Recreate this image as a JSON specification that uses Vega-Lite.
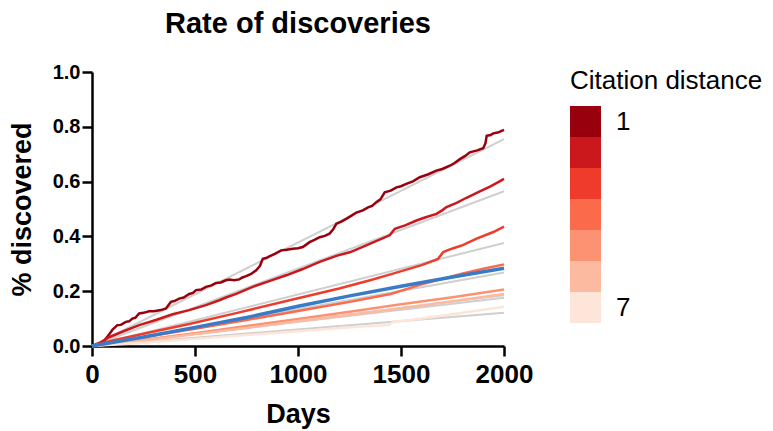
{
  "$schema": "https://vega.github.io/schema/vega-lite/v6.json",
  "autosize": "none",
  "width": 412,
  "height": 274,
  "padding": {"left": 92, "top": 72, "right": 269, "bottom": 85},
  "background": "white",
  "title": {"text": "Rate of discoveries", "anchor": "middle", "frame": "group", "font": "Liberation Sans", "fontSize": 29, "fontWeight": "bold", "color": "black", "offset": 23},
  "config": {
    "view": {"stroke": null},
    "axis": {"domainColor": "black", "domainWidth": 2.5, "tickColor": "black", "tickWidth": 2.5, "tickSize": 10, "labelColor": "black", "labelFont": "Liberation Sans", "labelFontWeight": "bold", "titleFont": "Liberation Sans", "titleFontWeight": "bold", "titleColor": "black", "grid": false, "labelFlush": false, "labelOverlap": false, "labelBound": false},
    "legend": {"labelFont": "Liberation Sans", "titleFont": "Liberation Sans"}
  },
  "datasets": {
    "reds": [
      {"dist": 1, "d": 0, "v": 0}, {"dist": 1, "d": 30, "v": 0.006}, {"dist": 1, "d": 60, "v": 0.02}, {"dist": 1, "d": 83, "v": 0.042}, {"dist": 1, "d": 100, "v": 0.06}, {"dist": 1, "d": 123, "v": 0.076}, {"dist": 1, "d": 140, "v": 0.077}, {"dist": 1, "d": 164, "v": 0.088}, {"dist": 1, "d": 180, "v": 0.09}, {"dist": 1, "d": 196, "v": 0.1}, {"dist": 1, "d": 210, "v": 0.103}, {"dist": 1, "d": 229, "v": 0.119}, {"dist": 1, "d": 250, "v": 0.121}, {"dist": 1, "d": 277, "v": 0.127}, {"dist": 1, "d": 300, "v": 0.127}, {"dist": 1, "d": 334, "v": 0.131}, {"dist": 1, "d": 359, "v": 0.137}, {"dist": 1, "d": 370, "v": 0.148}, {"dist": 1, "d": 383, "v": 0.161}, {"dist": 1, "d": 400, "v": 0.164}, {"dist": 1, "d": 423, "v": 0.173}, {"dist": 1, "d": 445, "v": 0.177}, {"dist": 1, "d": 472, "v": 0.19}, {"dist": 1, "d": 490, "v": 0.194}, {"dist": 1, "d": 505, "v": 0.204}, {"dist": 1, "d": 530, "v": 0.206}, {"dist": 1, "d": 553, "v": 0.216}, {"dist": 1, "d": 580, "v": 0.221}, {"dist": 1, "d": 602, "v": 0.23}, {"dist": 1, "d": 625, "v": 0.232}, {"dist": 1, "d": 650, "v": 0.24}, {"dist": 1, "d": 667, "v": 0.243}, {"dist": 1, "d": 690, "v": 0.24}, {"dist": 1, "d": 715, "v": 0.243}, {"dist": 1, "d": 730, "v": 0.25}, {"dist": 1, "d": 748, "v": 0.255}, {"dist": 1, "d": 770, "v": 0.262}, {"dist": 1, "d": 797, "v": 0.276}, {"dist": 1, "d": 815, "v": 0.292}, {"dist": 1, "d": 829, "v": 0.318}, {"dist": 1, "d": 845, "v": 0.321}, {"dist": 1, "d": 861, "v": 0.327}, {"dist": 1, "d": 890, "v": 0.337}, {"dist": 1, "d": 918, "v": 0.349}, {"dist": 1, "d": 945, "v": 0.351}, {"dist": 1, "d": 975, "v": 0.355}, {"dist": 1, "d": 1000, "v": 0.357}, {"dist": 1, "d": 1023, "v": 0.361}, {"dist": 1, "d": 1040, "v": 0.37}, {"dist": 1, "d": 1056, "v": 0.379}, {"dist": 1, "d": 1080, "v": 0.387}, {"dist": 1, "d": 1105, "v": 0.397}, {"dist": 1, "d": 1130, "v": 0.402}, {"dist": 1, "d": 1153, "v": 0.41}, {"dist": 1, "d": 1170, "v": 0.425}, {"dist": 1, "d": 1186, "v": 0.446}, {"dist": 1, "d": 1210, "v": 0.454}, {"dist": 1, "d": 1234, "v": 0.464}, {"dist": 1, "d": 1260, "v": 0.476}, {"dist": 1, "d": 1283, "v": 0.487}, {"dist": 1, "d": 1315, "v": 0.495}, {"dist": 1, "d": 1340, "v": 0.506}, {"dist": 1, "d": 1360, "v": 0.511}, {"dist": 1, "d": 1380, "v": 0.525}, {"dist": 1, "d": 1400, "v": 0.535}, {"dist": 1, "d": 1421, "v": 0.561}, {"dist": 1, "d": 1450, "v": 0.567}, {"dist": 1, "d": 1478, "v": 0.579}, {"dist": 1, "d": 1500, "v": 0.583}, {"dist": 1, "d": 1526, "v": 0.592}, {"dist": 1, "d": 1560, "v": 0.602}, {"dist": 1, "d": 1591, "v": 0.616}, {"dist": 1, "d": 1630, "v": 0.626}, {"dist": 1, "d": 1672, "v": 0.64}, {"dist": 1, "d": 1700, "v": 0.646}, {"dist": 1, "d": 1737, "v": 0.658}, {"dist": 1, "d": 1760, "v": 0.668}, {"dist": 1, "d": 1786, "v": 0.682}, {"dist": 1, "d": 1810, "v": 0.693}, {"dist": 1, "d": 1834, "v": 0.707}, {"dist": 1, "d": 1870, "v": 0.714}, {"dist": 1, "d": 1899, "v": 0.722}, {"dist": 1, "d": 1910, "v": 0.74}, {"dist": 1, "d": 1916, "v": 0.767}, {"dist": 1, "d": 1935, "v": 0.77}, {"dist": 1, "d": 1948, "v": 0.776}, {"dist": 1, "d": 1970, "v": 0.779}, {"dist": 1, "d": 2000, "v": 0.789},
      {"dist": 2, "d": 0, "v": 0}, {"dist": 2, "d": 40, "v": 0.012}, {"dist": 2, "d": 83, "v": 0.032}, {"dist": 2, "d": 147, "v": 0.052}, {"dist": 2, "d": 229, "v": 0.076}, {"dist": 2, "d": 310, "v": 0.095}, {"dist": 2, "d": 391, "v": 0.116}, {"dist": 2, "d": 472, "v": 0.131}, {"dist": 2, "d": 553, "v": 0.149}, {"dist": 2, "d": 618, "v": 0.167}, {"dist": 2, "d": 650, "v": 0.177}, {"dist": 2, "d": 700, "v": 0.19}, {"dist": 2, "d": 780, "v": 0.216}, {"dist": 2, "d": 860, "v": 0.237}, {"dist": 2, "d": 943, "v": 0.258}, {"dist": 2, "d": 1020, "v": 0.28}, {"dist": 2, "d": 1105, "v": 0.307}, {"dist": 2, "d": 1190, "v": 0.33}, {"dist": 2, "d": 1251, "v": 0.342}, {"dist": 2, "d": 1283, "v": 0.352}, {"dist": 2, "d": 1348, "v": 0.373}, {"dist": 2, "d": 1445, "v": 0.404}, {"dist": 2, "d": 1470, "v": 0.428}, {"dist": 2, "d": 1520, "v": 0.44}, {"dist": 2, "d": 1575, "v": 0.458}, {"dist": 2, "d": 1620, "v": 0.47}, {"dist": 2, "d": 1672, "v": 0.482}, {"dist": 2, "d": 1700, "v": 0.495}, {"dist": 2, "d": 1721, "v": 0.507}, {"dist": 2, "d": 1770, "v": 0.522}, {"dist": 2, "d": 1818, "v": 0.541}, {"dist": 2, "d": 1870, "v": 0.56}, {"dist": 2, "d": 1932, "v": 0.582}, {"dist": 2, "d": 1970, "v": 0.597}, {"dist": 2, "d": 2000, "v": 0.61},
      {"dist": 3, "d": 0, "v": 0}, {"dist": 3, "d": 100, "v": 0.02}, {"dist": 3, "d": 250, "v": 0.045}, {"dist": 3, "d": 472, "v": 0.08}, {"dist": 3, "d": 700, "v": 0.12}, {"dist": 3, "d": 959, "v": 0.167}, {"dist": 3, "d": 1200, "v": 0.21}, {"dist": 3, "d": 1350, "v": 0.24}, {"dist": 3, "d": 1461, "v": 0.264}, {"dist": 3, "d": 1600, "v": 0.295}, {"dist": 3, "d": 1680, "v": 0.318}, {"dist": 3, "d": 1705, "v": 0.343}, {"dist": 3, "d": 1750, "v": 0.356}, {"dist": 3, "d": 1800, "v": 0.368}, {"dist": 3, "d": 1867, "v": 0.392}, {"dist": 3, "d": 1948, "v": 0.416}, {"dist": 3, "d": 2000, "v": 0.436},
      {"dist": 4, "d": 0, "v": 0}, {"dist": 4, "d": 100, "v": 0.012}, {"dist": 4, "d": 300, "v": 0.038}, {"dist": 4, "d": 500, "v": 0.063}, {"dist": 4, "d": 750, "v": 0.095}, {"dist": 4, "d": 1000, "v": 0.128}, {"dist": 4, "d": 1251, "v": 0.161}, {"dist": 4, "d": 1450, "v": 0.19}, {"dist": 4, "d": 1600, "v": 0.225}, {"dist": 4, "d": 1705, "v": 0.246}, {"dist": 4, "d": 1800, "v": 0.265}, {"dist": 4, "d": 1900, "v": 0.282}, {"dist": 4, "d": 2000, "v": 0.298},
      {"dist": 5, "d": 0, "v": 0}, {"dist": 5, "d": 250, "v": 0.022}, {"dist": 5, "d": 500, "v": 0.047}, {"dist": 5, "d": 750, "v": 0.073}, {"dist": 5, "d": 1000, "v": 0.099}, {"dist": 5, "d": 1251, "v": 0.125}, {"dist": 5, "d": 1500, "v": 0.152}, {"dist": 5, "d": 1750, "v": 0.178}, {"dist": 5, "d": 2000, "v": 0.206},
      {"dist": 6, "d": 0, "v": 0}, {"dist": 6, "d": 250, "v": 0.02}, {"dist": 6, "d": 500, "v": 0.043}, {"dist": 6, "d": 750, "v": 0.066}, {"dist": 6, "d": 1000, "v": 0.09}, {"dist": 6, "d": 1251, "v": 0.113}, {"dist": 6, "d": 1500, "v": 0.138}, {"dist": 6, "d": 1750, "v": 0.163}, {"dist": 6, "d": 2000, "v": 0.19},
      {"dist": 7, "d": 0, "v": 0}, {"dist": 7, "d": 250, "v": 0.012}, {"dist": 7, "d": 500, "v": 0.026}, {"dist": 7, "d": 750, "v": 0.04}, {"dist": 7, "d": 1000, "v": 0.054}, {"dist": 7, "d": 1251, "v": 0.068}, {"dist": 7, "d": 1440, "v": 0.077}, {"dist": 7, "d": 1461, "v": 0.088}, {"dist": 7, "d": 1600, "v": 0.1}, {"dist": 7, "d": 1800, "v": 0.121}, {"dist": 7, "d": 2000, "v": 0.143}
    ],
    "greys": [
      {"g": 1, "d": 0, "v": 0}, {"g": 1, "d": 2000, "v": 0.755},
      {"g": 2, "d": 0, "v": 0}, {"g": 2, "d": 2000, "v": 0.565},
      {"g": 3, "d": 0, "v": 0}, {"g": 3, "d": 2000, "v": 0.376},
      {"g": 4, "d": 0, "v": 0}, {"g": 4, "d": 2000, "v": 0.268},
      {"g": 5, "d": 0, "v": 0}, {"g": 5, "d": 2000, "v": 0.185},
      {"g": 6, "d": 0, "v": 0}, {"g": 6, "d": 2000, "v": 0.176},
      {"g": 7, "d": 0, "v": 0}, {"g": 7, "d": 2000, "v": 0.121}
    ],
    "blue": [
      {"d": 0, "v": 0}, {"d": 250, "v": 0.033}, {"d": 500, "v": 0.068}, {"d": 750, "v": 0.104}, {"d": 1000, "v": 0.145}, {"d": 1251, "v": 0.183}, {"d": 1500, "v": 0.218}, {"d": 1750, "v": 0.252}, {"d": 2000, "v": 0.284}
    ]
  },
  "encoding": {
    "x": {"field": "d", "type": "quantitative", "scale": {"domain": [0, 2000], "nice": false}, "axis": {"values": [0, 500, 1000, 1500, 2000], "format": "d", "labelFontSize": 26, "labelPadding": 5, "title": "Days", "titleFontSize": 27, "titlePadding": 14}},
    "y": {"field": "v", "type": "quantitative", "scale": {"domain": [0, 1], "nice": false}, "axis": {"values": [0, 0.2, 0.4, 0.6, 0.8, 1.0], "format": ".1f", "labelFontSize": 20, "labelPadding": 2, "title": "% discovered", "titleFontSize": 27, "titlePadding": 16}}
  },
  "layer": [
    {"data": {"name": "greys"}, "mark": {"type": "line", "stroke": "#cfcfcf", "strokeWidth": 2}, "encoding": {"detail": {"field": "g", "type": "nominal"}}},
    {"data": {"name": "reds"}, "mark": {"type": "line", "strokeWidth": 2.5}, "encoding": {
      "color": {"field": "dist", "type": "ordinal", "scale": {"domain": [1, 2, 3, 4, 5, 6, 7], "range": ["#99000d", "#cb181d", "#ef3b2c", "#fb6a4a", "#fc9272", "#fcbba1", "#fee5d9"]},
        "legend": {"title": "Citation distance", "orient": "none", "legendX": 478, "legendY": -4, "titleFontSize": 26, "titleFontWeight": "normal", "titleColor": "black", "titlePadding": 12, "titleLimit": 400, "labelFontSize": 26, "labelColor": "black", "labelOffset": 15, "symbolType": "square", "symbolSize": 961, "symbolStrokeWidth": 0, "rowPadding": 0, "labelExpr": "datum.value == 1 || datum.value == 7 ? datum.label : ''",
          "encode": {"symbols": {"update": {"fill": {"scale": "color", "field": "value"}, "strokeWidth": {"value": 0}, "opacity": {"value": 1}}}}}},
      "order": {"field": "d", "type": "quantitative"}}},
    {"data": {"name": "blue"}, "mark": {"type": "line", "stroke": "#3a7bc8", "strokeWidth": 3.5}, "encoding": {}}
  ]
}
